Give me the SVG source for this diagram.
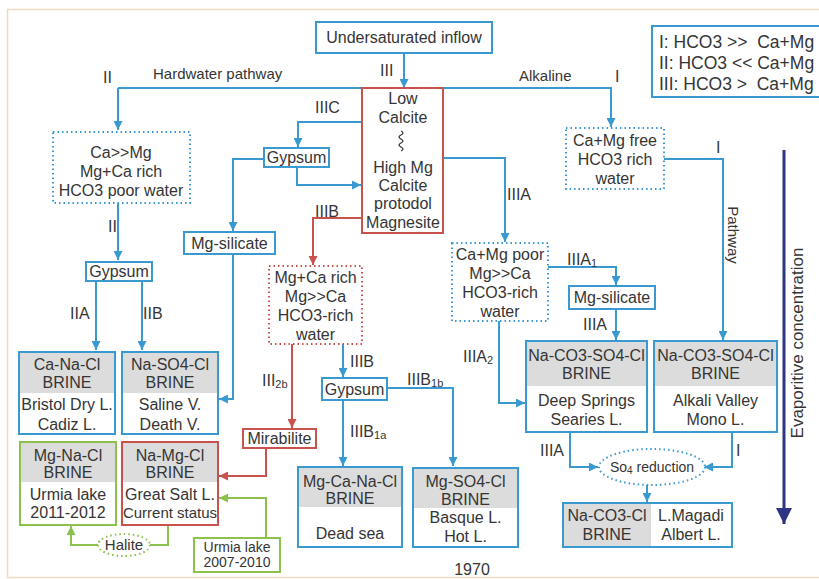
<svg xmlns="http://www.w3.org/2000/svg" width="819" height="579" viewBox="0 0 819 579">
<defs>
<style>
text{font-family:"Liberation Sans",Arial,sans-serif;fill:#353535;font-size:16px}
.c{text-anchor:middle}
.box{fill:#fff;stroke:#3a9ad0;stroke-width:2}
.rbox{fill:#fff;stroke:#c9524c;stroke-width:2}
.gbox{fill:#fff;stroke:#8cc24c;stroke-width:2}
.dot{fill:#fff;stroke:#3a9ad0;stroke-width:2;stroke-dasharray:1.5 3}
.rdot{fill:#fff;stroke:#c9524c;stroke-width:2;stroke-dasharray:1.5 3}
.gdot{fill:#fff;stroke:#8cc24c;stroke-width:2;stroke-dasharray:1.5 3}
.hdr{fill:#dcdcdc}
.bl{fill:none;stroke:#3a9ad0;stroke-width:2;marker-end:url(#ab)}
.rl{fill:none;stroke:#c9524c;stroke-width:2;marker-end:url(#ar)}
.gl{fill:none;stroke:#8cc24c;stroke-width:2;marker-end:url(#ag)}
.sub{font-size:11px}
.lg{font-size:17.5px}
</style>
<marker id="ab" viewBox="0 0 10 10" refX="10" refY="5" markerWidth="9" markerHeight="9" markerUnits="userSpaceOnUse" orient="auto"><path d="M0,0 L10,5 L0,10 z" fill="#3a9ad0"/></marker>
<marker id="ar" viewBox="0 0 10 10" refX="10" refY="5" markerWidth="9" markerHeight="9" markerUnits="userSpaceOnUse" orient="auto"><path d="M0,0 L10,5 L0,10 z" fill="#c9524c"/></marker>
<marker id="ag" viewBox="0 0 10 10" refX="10" refY="5" markerWidth="9" markerHeight="9" markerUnits="userSpaceOnUse" orient="auto"><path d="M0,0 L10,5 L0,10 z" fill="#8cc24c"/></marker>
<marker id="an" viewBox="0 0 10 10" refX="10" refY="5" markerWidth="20" markerHeight="16" markerUnits="userSpaceOnUse" orient="auto"><path d="M0,0 L10,5 L0,10 z" fill="#2e3585"/></marker>
</defs>
<rect x="0" y="0" width="819" height="579" fill="#fff"/>
<rect x="7.5" y="9.5" width="830" height="568" fill="#fff" stroke="#eddcc2" stroke-width="1.5"/>

<g id="connectors">
<path class="bl" d="M404,53 V88"/>
<path class="bl" d="M118,88 H611 V127"/>
<path class="bl" d="M118,88 V130"/>
<path class="bl" d="M118,203 V260"/>
<path class="bl" d="M96,281 V350"/>
<path class="bl" d="M142,281 V350"/>
<path class="bl" d="M362,122 H298 V147"/>
<path class="bl" d="M297,167 V185 H361"/>
<path class="bl" d="M264,159 H233 V231"/>
<path class="bl" d="M233,254 V399 H219"/>
<path class="bl" d="M443,158 H505 V242"/>
<path class="bl" d="M548,267 H616 V285"/>
<path class="bl" d="M616,309 V340"/>
<path class="bl" d="M499,321 V403 H525"/>
<path class="bl" d="M664,159 H723 V340"/>
<path class="bl" d="M570,432 V467 H598"/>
<path class="bl" d="M732,432 V467 H704"/>
<path class="bl" d="M647,485 V502"/>
<path class="bl" d="M343,344 V377"/>
<path class="bl" d="M343,400 V466"/>
<path class="bl" d="M387,388 H453 V466"/>
<path class="rl" d="M362,218 H313 V265"/>
<path class="rl" d="M292,344 V428"/>
<path class="rl" d="M266,448 V476 H219"/>
<path fill="none" stroke="#8cc24c" stroke-width="2" d="M168,525 V545 H150"/>
<path class="gl" d="M98,545 H71 V526"/>
<path class="gl" d="M266,538 V498 H219"/>
<path fill="none" stroke="#2e3585" stroke-width="3" marker-end="url(#an)" d="M784,150 V524"/>
</g>

<g id="labels">
<text x="380" y="76">III</text>
<text x="103" y="83">II</text>
<text x="153" y="79" style="font-size:15px">Hardwater pathway</text>
<text x="519" y="81" style="font-size:15px">Alkaline</text>
<text x="615" y="82">I</text>
<text x="315" y="113">IIIC</text>
<text x="315" y="217">IIIB</text>
<text x="507" y="200">IIIA</text>
<text x="716" y="153">I</text>
<text x="108" y="232">II</text>
<text x="70" y="319">IIA</text>
<text x="143" y="319">IIB</text>
<text x="567" y="265">IIIA<tspan class="sub" dy="2">1</tspan></text>
<text x="583" y="330">IIIA</text>
<text x="463" y="362">IIIA<tspan class="sub" dy="2">2</tspan></text>
<text x="262" y="386">III<tspan class="sub" dy="2">2b</tspan></text>
<text x="350" y="367">IIIB</text>
<text x="407" y="385">IIIB<tspan class="sub" dy="2">1b</tspan></text>
<text x="350" y="437">IIIB<tspan class="sub" dy="2">1a</tspan></text>
<text x="540" y="456">IIIA</text>
<text x="736" y="456">I</text>
<text class="c" x="472" y="575">1970</text>
<text class="c" transform="translate(728,235) rotate(90)" style="font-size:15px">Pathway</text>
<text class="c" transform="translate(803,343) rotate(-90)" style="font-size:17px">Evaporitive concentration</text>
</g>

<g id="inflow">
<rect class="box" x="316" y="22" width="176" height="31"/>
<text class="c" x="404" y="43">Undersaturated inflow</text>
</g>

<g id="legend">
<rect class="box" x="652" y="26" width="180" height="71"/>
<text class="lg" x="659" y="48" xml:space="preserve">I: HCO3 &gt;&gt;  Ca+Mg</text>
<text class="lg" x="659" y="69">II: HCO3 &lt;&lt; Ca+Mg</text>
<text class="lg" x="659" y="90" xml:space="preserve">III: HCO3 &gt;  Ca+Mg</text>
</g>

<g id="calcite">
<rect class="rbox" x="362" y="88" width="81" height="145" style="fill:none"/>
<text class="c" x="403" y="104">Low</text>
<text class="c" x="403" y="123">Calcite</text>
<path d="M401,131 q4,2 0,4 q-4,2 0,4 q4,2 0,4 q-4,2 0,4 q4,2 0,4" fill="none" stroke="#353535" stroke-width="1.3"/>
<text class="c" x="403" y="173">High Mg</text>
<text class="c" x="403" y="191">Calcite</text>
<text class="c" x="403" y="209">protodol</text>
<text class="c" x="403" y="228">Magnesite</text>
</g>

<g id="hardwater">
<rect class="dot" x="53" y="132" width="137" height="71"/>
<text class="c" x="121" y="158">Ca&gt;&gt;Mg</text>
<text class="c" x="121" y="177">Mg+Ca rich</text>
<text class="c" x="121" y="196">HCO3 poor water</text>
</g>

<g id="camgfree">
<rect class="dot" x="566" y="128" width="98" height="61"/>
<text class="c" x="615" y="146">Ca+Mg free</text>
<text class="c" x="615" y="165">HCO3 rich</text>
<text class="c" x="615" y="184">water</text>
</g>

<g id="gypsum1">
<rect class="box" x="264" y="148" width="65" height="19"/>
<text class="c" x="296.5" y="163">Gypsum</text>
</g>

<g id="mgsilicate1">
<rect class="box" x="184" y="232" width="91" height="22"/>
<text class="c" x="229.5" y="249">Mg-silicate</text>
</g>

<g id="gypsum2">
<rect class="box" x="86" y="262" width="66" height="19"/>
<text class="c" x="119" y="277">Gypsum</text>
</g>

<g id="mgcarich">
<rect class="rdot" x="269" y="266" width="93" height="78"/>
<text class="c" x="315.5" y="283">Mg+Ca rich</text>
<text class="c" x="315.5" y="302">Mg&gt;&gt;Ca</text>
<text class="c" x="315.5" y="321">HCO3-rich</text>
<text class="c" x="315.5" y="340">water</text>
</g>

<g id="camgpoor">
<rect class="dot" x="452" y="243" width="96" height="78"/>
<text class="c" x="500" y="260">Ca+Mg poor</text>
<text class="c" x="500" y="279">Mg&gt;&gt;Ca</text>
<text class="c" x="500" y="298">HCO3-rich</text>
<text class="c" x="500" y="317">water</text>
</g>

<g id="mgsilicate2">
<rect class="box" x="569" y="286" width="86" height="23"/>
<text class="c" x="612" y="303">Mg-silicate</text>
</g>

<g id="canacl">
<rect class="box" x="19" y="352" width="96" height="82"/>
<rect class="hdr" x="20" y="353" width="94" height="40"/>
<rect x="19" y="352" width="96" height="82" fill="none" stroke="#3a9ad0" stroke-width="2"/>
<text class="c" x="67" y="370">Ca-Na-Cl</text>
<text class="c" x="67" y="388">BRINE</text>
<text class="c" x="67" y="410">Bristol Dry L.</text>
<text class="c" x="67" y="430">Cadiz L.</text>
</g>

<g id="naso4cl">
<rect class="box" x="122" y="352" width="96" height="82"/>
<rect class="hdr" x="123" y="353" width="94" height="40"/>
<rect x="122" y="352" width="96" height="82" fill="none" stroke="#3a9ad0" stroke-width="2"/>
<text class="c" x="170" y="370">Na-SO4-Cl</text>
<text class="c" x="170" y="388">BRINE</text>
<text class="c" x="170" y="410">Saline V.</text>
<text class="c" x="170" y="430">Death V.</text>
</g>

<g id="mgnacl">
<rect class="gbox" x="20" y="442" width="96" height="83"/>
<rect class="hdr" x="21" y="443" width="94" height="39"/>
<rect x="20" y="442" width="96" height="83" fill="none" stroke="#8cc24c" stroke-width="2"/>
<text class="c" x="68" y="461">Mg-Na-Cl</text>
<text class="c" x="68" y="478">BRINE</text>
<text class="c" x="68" y="500">Urmia lake</text>
<text class="c" x="68" y="518">2011-2012</text>
</g>

<g id="namgcl">
<rect class="rbox" x="122" y="442" width="96" height="83"/>
<rect class="hdr" x="123" y="443" width="94" height="39"/>
<rect x="122" y="442" width="96" height="83" fill="none" stroke="#c9524c" stroke-width="2"/>
<text class="c" x="170" y="461">Na-Mg-Cl</text>
<text class="c" x="170" y="478">BRINE</text>
<text class="c" x="170" y="500">Great Salt L.</text>
<text class="c" x="170" y="518" style="font-size:15px">Current status</text>
</g>

<g id="halite">
<ellipse class="gdot" cx="124" cy="545" rx="26" ry="11"/>
<text class="c" x="124" y="550" style="font-size:15px">Halite</text>
</g>

<g id="urmia0710">
<rect class="gbox" x="194" y="538" width="86" height="34"/>
<text class="c" x="237" y="552" style="font-size:14px">Urmia lake</text>
<text class="c" x="237" y="567" style="font-size:14px">2007-2010</text>
</g>

<g id="mirabilite">
<rect class="rbox" x="243" y="429" width="73" height="19"/>
<text class="c" x="279.5" y="444">Mirabilite</text>
</g>

<g id="gypsum3">
<rect class="box" x="322" y="378" width="65" height="22"/>
<text class="c" x="354.5" y="395">Gypsum</text>
</g>

<g id="mgcanacl">
<rect class="box" x="298" y="467" width="104" height="80"/>
<rect class="hdr" x="299" y="468" width="102" height="39"/>
<rect x="298" y="467" width="104" height="80" fill="none" stroke="#3a9ad0" stroke-width="2"/>
<text class="c" x="350" y="487">Mg-Ca-Na-Cl</text>
<text class="c" x="350" y="504">BRINE</text>
<text class="c" x="350" y="539">Dead sea</text>
</g>

<g id="mgso4cl">
<rect class="box" x="413" y="468" width="105" height="79"/>
<rect class="hdr" x="414" y="469" width="103" height="39"/>
<rect x="413" y="468" width="105" height="79" fill="none" stroke="#3a9ad0" stroke-width="2"/>
<text class="c" x="465.5" y="487">Mg-SO4-Cl</text>
<text class="c" x="465.5" y="505">BRINE</text>
<text class="c" x="465.5" y="523">Basque L.</text>
<text class="c" x="465.5" y="542">Hot L.</text>
</g>

<g id="naco3so4cl1">
<rect class="box" x="526" y="341" width="121" height="91"/>
<rect class="hdr" x="527" y="342" width="119" height="44"/>
<rect x="526" y="341" width="121" height="91" fill="none" stroke="#3a9ad0" stroke-width="2"/>
<text class="c" x="586.5" y="361">Na-CO3-SO4-Cl</text>
<text class="c" x="586.5" y="379">BRINE</text>
<text class="c" x="586.5" y="406">Deep Springs</text>
<text class="c" x="586.5" y="425">Searies L.</text>
</g>

<g id="naco3so4cl2">
<rect class="box" x="654" y="341" width="123" height="91"/>
<rect class="hdr" x="655" y="342" width="121" height="44"/>
<rect x="654" y="341" width="123" height="91" fill="none" stroke="#3a9ad0" stroke-width="2"/>
<text class="c" x="715.5" y="361">Na-CO3-SO4-Cl</text>
<text class="c" x="715.5" y="379">BRINE</text>
<text class="c" x="715.5" y="406">Alkali Valley</text>
<text class="c" x="715.5" y="425">Mono L.</text>
</g>

<g id="so4reduction">
<ellipse class="dot" cx="652" cy="467" rx="53" ry="18"/>
<text class="c" x="652" y="472" style="font-size:14px">So<tspan style="font-size:10px" dy="2">4</tspan><tspan dy="-2"> reduction</tspan></text>
</g>

<g id="naco3cl">
<rect class="box" x="563" y="503" width="169" height="44"/>
<rect class="hdr" x="564" y="504" width="87" height="42"/>
<rect x="563" y="503" width="169" height="44" fill="none" stroke="#3a9ad0" stroke-width="2"/>
<text class="c" x="607" y="521">Na-CO3-Cl</text>
<text class="c" x="607" y="540">BRINE</text>
<text class="c" x="691" y="521">L.Magadi</text>
<text class="c" x="691" y="540">Albert L.</text>
</g>
</svg>
